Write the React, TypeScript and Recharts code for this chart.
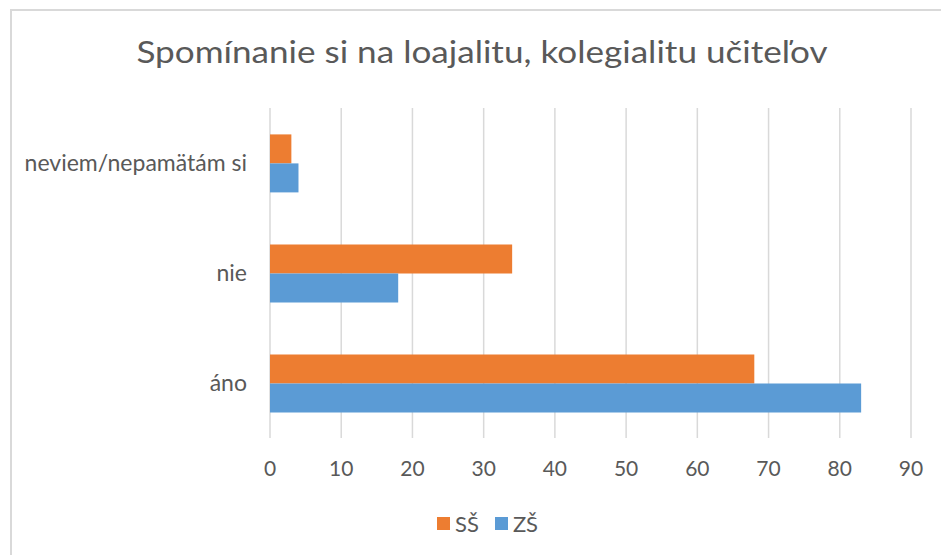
import React from "react";
import { BarChart, Bar, XAxis, YAxis, CartesianGrid, Legend } from "recharts";

const categories = ["neviem/nepamätám si", "nie", "áno"];
const ssValues = [3, 34, 68];
const zsValues = [4, 18, 83];
const xTicks = [0, 10, 20, 30, 40, 50, 60, 70, 80, 90];
const seriesNames = ["SŠ", "ZŠ"];
const colors = ["#ED7D31", "#5B9BD5"];
const title = "Spomínanie si na loajalitu, kolegialitu učiteľov";

const data = categories.map((c, i) => ({ name: c, ss: ssValues[i], zs: zsValues[i] }));

const FONT = "Lato, 'Open Sans', sans-serif";
const TEXT = "#595959";

const LegendContent = () => (
  <div style={{ display: "flex", alignItems: "center", height: 30, fontFamily: FONT, fontSize: 22, color: TEXT }}>
    {seriesNames.map((n, i) => (
      <div key={n} style={{ display: "flex", alignItems: "center", marginRight: 16 }}>
        <div style={{ width: 13, height: 13, background: colors[i], marginRight: 5 }} />
        <span>{n}</span>
      </div>
    ))}
  </div>
);

export default function App() {
  return (
    <div style={{ position: "absolute", left: 0, top: 0, width: 941, height: 555, overflow: "hidden", background: "#fff" }}>
      <div style={{ position: "absolute", left: 10, top: 9, width: 1200, height: 1200, borderLeft: "2px solid #D9D9D9", borderTop: "2px solid #D9D9D9" }} />
      <div style={{ position: "absolute", left: 23, top: 31, width: 918, textAlign: "center", fontFamily: FONT, fontSize: 30, color: TEXT, lineHeight: "40px", transform: "scaleX(1.17)", transformOrigin: "459px 0" }}>
        {title}
      </div>
      <div style={{ position: "absolute", left: 0, top: 0 }}>
        <BarChart width={941} height={555} data={data} layout="vertical" margin={{ top: 108, right: 30, left: 0, bottom: 17 }} barCategoryGap="24%" barGap={0}>
          <CartesianGrid horizontal={false} stroke="#D9D9D9" strokeWidth={1.5} />
          <XAxis type="number" domain={[0, 90]} ticks={xTicks} tickSize={0} tickMargin={23} height={70} axisLine={false} tick={{ fill: TEXT, fontSize: 21, fontFamily: FONT }} interval={0} />
          <YAxis type="category" dataKey="name" width={270} tickSize={0} tickMargin={23} axisLine={false} tick={{ fill: TEXT, fontSize: 23, fontFamily: FONT }} />
          <Legend verticalAlign="bottom" content={<LegendContent />} wrapperStyle={{ left: 437, width: 200, height: 30 }} />
          <Bar dataKey="ss" name={seriesNames[0]} fill={colors[0]} isAnimationActive={false} />
          <Bar dataKey="zs" name={seriesNames[1]} fill={colors[1]} isAnimationActive={false} />
        </BarChart>
      </div>
    </div>
  );
}
